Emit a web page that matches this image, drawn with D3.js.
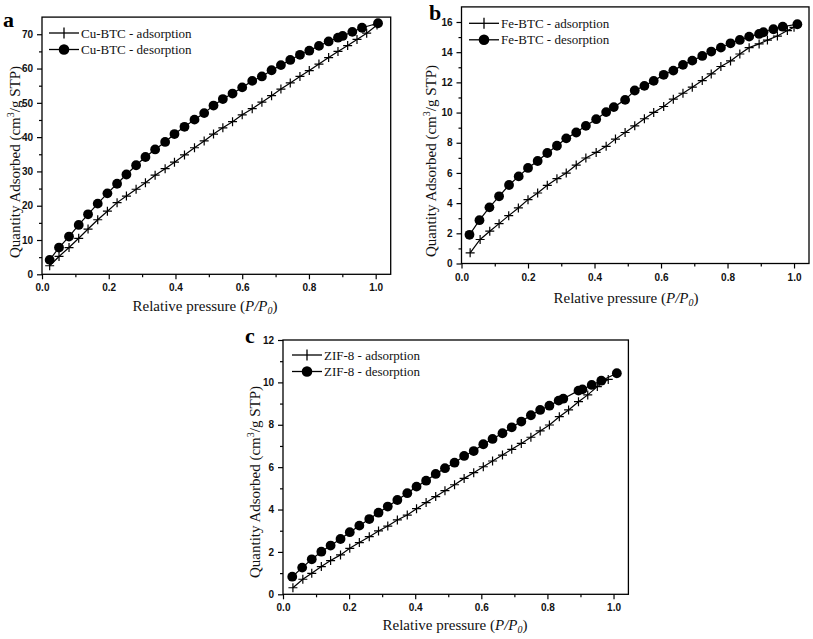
<!DOCTYPE html>
<html>
<head>
<meta charset="utf-8">
<script src="https://cdn.jsdelivr.net/npm/d3@7"></script>
<style>
  body { margin: 0; background: #fff; }
</style>
</head>
<body>
<div id="chart"></div>
<script>
var width = 813,
  height = 639;

// [relative pressure, quantity adsorbed]
var cuAdsorption = [
  [0.023, 2.5], [0.051, 5.2], [0.081, 7.8], [0.110, 10.5], [0.138, 13.2], [0.167, 15.9],
  [0.196, 18.4], [0.225, 20.9], [0.253, 22.8], [0.282, 24.8], [0.310, 26.7], [0.339, 28.9],
  [0.369, 30.8], [0.397, 32.7], [0.427, 34.8], [0.457, 36.9], [0.486, 38.9], [0.514, 40.9],
  [0.542, 42.7], [0.571, 44.5], [0.600, 46.5], [0.630, 48.3], [0.659, 50.2], [0.688, 52.1],
  [0.716, 54.0], [0.744, 55.8], [0.773, 57.7], [0.801, 59.4], [0.830, 61.3], [0.859, 63.2],
  [0.887, 65.0], [0.916, 66.7], [0.944, 68.5], [0.973, 70.3], [1.004, 72.7]
];
var cuDesorption = [
  [0.023, 4.2], [0.051, 7.8], [0.081, 11.0], [0.110, 14.4], [0.138, 17.5], [0.167, 20.6],
  [0.196, 23.6], [0.225, 26.4], [0.253, 29.1], [0.282, 31.8], [0.310, 34.2], [0.339, 36.4],
  [0.369, 38.6], [0.397, 40.9], [0.427, 43.0], [0.457, 45.1], [0.486, 47.0], [0.514, 49.2],
  [0.542, 51.1], [0.571, 52.7], [0.600, 54.5], [0.630, 56.4], [0.659, 57.7], [0.688, 59.5],
  [0.716, 61.0], [0.744, 62.5], [0.773, 64.0], [0.801, 65.2], [0.830, 66.6], [0.859, 67.9],
  [0.887, 69.0], [0.901, 69.5], [0.930, 70.7], [0.959, 71.9], [1.007, 73.2]
];
var feAdsorption = [
  [0.026, 0.71], [0.056, 1.59], [0.085, 2.14], [0.113, 2.64], [0.142, 3.17], [0.171, 3.68],
  [0.200, 4.23], [0.229, 4.67], [0.258, 5.18], [0.287, 5.62], [0.315, 5.99], [0.345, 6.52],
  [0.374, 6.99], [0.405, 7.36], [0.435, 7.76], [0.463, 8.24], [0.492, 8.68], [0.521, 9.12],
  [0.550, 9.59], [0.578, 10.01], [0.608, 10.40], [0.637, 10.89], [0.666, 11.28], [0.694, 11.68],
  [0.724, 12.12], [0.751, 12.56], [0.780, 13.05], [0.809, 13.42], [0.837, 13.88], [0.865, 14.30],
  [0.895, 14.55], [0.920, 14.80], [0.950, 15.07], [0.980, 15.43], [1.000, 15.65]
];
var feDesorption = [
  [0.024, 1.90], [0.054, 2.87], [0.084, 3.72], [0.113, 4.45], [0.143, 5.20], [0.172, 5.77],
  [0.200, 6.33], [0.229, 6.79], [0.258, 7.32], [0.287, 7.80], [0.315, 8.29], [0.345, 8.68],
  [0.374, 9.12], [0.405, 9.56], [0.435, 10.03], [0.458, 10.36], [0.492, 10.84], [0.521, 11.46],
  [0.550, 11.77], [0.578, 12.10], [0.608, 12.50], [0.637, 12.78], [0.666, 13.16], [0.694, 13.44],
  [0.724, 13.75], [0.751, 14.04], [0.780, 14.30], [0.809, 14.59], [0.837, 14.81], [0.865, 15.03],
  [0.895, 15.21], [0.908, 15.32], [0.938, 15.52], [0.966, 15.69], [1.010, 15.85]
];
var zifAdsorption = [
  [0.030, 0.31], [0.060, 0.71], [0.087, 0.99], [0.116, 1.31], [0.144, 1.59], [0.174, 1.86],
  [0.202, 2.17], [0.231, 2.44], [0.261, 2.72], [0.289, 2.99], [0.317, 3.22], [0.346, 3.51],
  [0.376, 3.74], [0.404, 4.04], [0.433, 4.33], [0.462, 4.61], [0.490, 4.89], [0.519, 5.17],
  [0.548, 5.47], [0.577, 5.74], [0.606, 6.02], [0.634, 6.29], [0.664, 6.57], [0.692, 6.84],
  [0.721, 7.12], [0.750, 7.41], [0.778, 7.71], [0.806, 7.99], [0.836, 8.38], [0.864, 8.70],
  [0.894, 9.09], [0.922, 9.41], [0.951, 9.80], [0.984, 10.14]
];
var zifDesorption = [
  [0.028, 0.83], [0.058, 1.26], [0.087, 1.65], [0.116, 2.01], [0.144, 2.30], [0.174, 2.61],
  [0.202, 2.93], [0.231, 3.24], [0.261, 3.55], [0.289, 3.85], [0.317, 4.14], [0.346, 4.45],
  [0.376, 4.77], [0.404, 5.08], [0.433, 5.36], [0.462, 5.68], [0.490, 5.95], [0.519, 6.21],
  [0.548, 6.53], [0.577, 6.76], [0.606, 7.08], [0.634, 7.33], [0.664, 7.60], [0.692, 7.88],
  [0.721, 8.15], [0.750, 8.45], [0.778, 8.70], [0.806, 8.90], [0.834, 9.14], [0.848, 9.23],
  [0.894, 9.61], [0.906, 9.67], [0.934, 9.88], [0.963, 10.08], [1.010, 10.43]
];

// ticks
var xTicks = [0, 0.2, 0.4, 0.6, 0.8, 1.0];
var xMinor = [0.1, 0.3, 0.5, 0.7, 0.9];
var cuTicks = [0, 10, 20, 30, 40, 50, 60, 70];
var cuMinor = [5, 15, 25, 35, 45, 55, 65];
var feTicks = [0, 2, 4, 6, 8, 10, 12, 14, 16];
var feMinor = [1, 3, 5, 7, 9, 11, 13, 15];
var zifTicks = [0, 2, 4, 6, 8, 10, 12];
var zifMinor = [1, 3, 5, 7, 9, 11];

var xMax = 1.045;

var panels = [
  { letter: 'a', name: 'Cu-BTC', ads: cuAdsorption, des: cuDesorption,
    yMax: 75, yTicks: cuTicks, yMinor: cuMinor,
    left: 42, right: 390.7, bottom: 274.3, top: 17.1,
    letterX: 3, letterY: 27,
    legX: 49, legY: 33, xTitleX: 205, xTitleY: 311, yTitleX: 19.5, yTitleY: 162 },
  { letter: 'b', name: 'Fe-BTC', ads: feAdsorption, des: feDesorption,
    yMax: 17, yTicks: feTicks, yMinor: feMinor,
    left: 461.5, right: 809, bottom: 263.5, top: 6.9,
    letterX: 429, letterY: 20,
    legX: 469, legY: 23.3, xTitleX: 626, xTitleY: 303, yTitleX: 435.5, yTitleY: 161 },
  { letter: 'c', name: 'ZIF-8', ads: zifAdsorption, des: zifDesorption,
    yMax: 12, yTicks: zifTicks, yMinor: zifMinor,
    left: 283, right: 628.4, bottom: 594.3, top: 340,
    letterX: 245, letterY: 343,
    legX: 292, legY: 355, xTitleX: 455, xTitleY: 630, yTitleX: 259.5, yTitleY: 482 }
];

var serif = '"Liberation Serif", "Times New Roman", serif';
var sans = '"Liberation Sans", Arial, sans-serif';

var svg = d3.select('#chart')
  .append('svg')
  .attr('width', width)
  .attr('height', height);

svg.append('rect')
  .attr('width', width)
  .attr('height', height)
  .attr('fill', '#fff');

var plusPath = 'M-4.5,0H4.5M0,-4.5V4.5';

panels.forEach(drawPanel);

function styleAxis(sel) {
  sel.select('.domain').remove();
  sel.selectAll('line').attr('stroke', '#000').attr('stroke-width', 1.2);
  sel.selectAll('text')
    .attr('font-family', sans)
    .attr('font-weight', 'bold')
    .attr('font-size', 10)
    .attr('fill', '#111');
}

function drawPanel(p) {
  var x = d3.scaleLinear().domain([0, xMax]).range([p.left, p.right]);
  var y = d3.scaleLinear().domain([0, p.yMax]).range([p.bottom, p.top]);
  var g = svg.append('g');

  // axes (major + minor)
  g.append('g')
    .attr('transform', 'translate(0,' + p.bottom + ')')
    .call(d3.axisBottom(x).tickValues(xTicks).tickFormat(d3.format('.1f'))
      .tickSize(5).tickSizeOuter(0).tickPadding(5))
    .call(styleAxis);
  g.append('g')
    .attr('transform', 'translate(0,' + p.bottom + ')')
    .call(d3.axisBottom(x).tickValues(xMinor).tickFormat('').tickSize(3).tickSizeOuter(0))
    .call(styleAxis);
  g.append('g')
    .attr('transform', 'translate(' + p.left + ',0)')
    .call(d3.axisLeft(y).tickValues(p.yTicks).tickFormat(d3.format('d'))
      .tickSize(5).tickSizeOuter(0).tickPadding(4))
    .call(styleAxis);
  g.append('g')
    .attr('transform', 'translate(' + p.left + ',0)')
    .call(d3.axisLeft(y).tickValues(p.yMinor).tickFormat('').tickSize(3).tickSizeOuter(0))
    .call(styleAxis);

  // frame
  g.append('rect')
    .attr('x', x(0))
    .attr('y', y(p.yMax))
    .attr('width', x(xMax) - x(0))
    .attr('height', y(0) - y(p.yMax))
    .attr('fill', 'none')
    .attr('stroke', '#000')
    .attr('stroke-width', 1.3);

  var line = d3.line()
    .x(function(d) { return x(d[0]); })
    .y(function(d) { return y(d[1]); });

  g.append('path')
    .datum(p.ads)
    .attr('d', line)
    .attr('fill', 'none')
    .attr('stroke', '#000')
    .attr('stroke-width', 1.2);

  g.append('path')
    .datum(p.des)
    .attr('d', line)
    .attr('fill', 'none')
    .attr('stroke', '#000')
    .attr('stroke-width', 1.2);

  g.append('g')
    .selectAll('path')
    .data(p.ads)
    .join('path')
    .attr('d', plusPath)
    .attr('stroke', '#000')
    .attr('stroke-width', 1.2)
    .attr('transform', function(d) {
      return 'translate(' + x(d[0]) + ',' + y(d[1]) + ')';
    });

  g.append('g')
    .selectAll('circle')
    .data(p.des)
    .join('circle')
    .attr('cx', function(d) { return x(d[0]); })
    .attr('cy', function(d) { return y(d[1]); })
    .attr('r', 4.9)
    .attr('fill', '#000');

  // legend
  var rows = [
    { label: p.name + ' - adsorption', sym: 'plus' },
    { label: p.name + ' - desorption', sym: 'circle' }
  ];
  rows.forEach(function(r, i) {
    var ly = p.legY + i * 16.5;
    g.append('line')
      .attr('x1', p.legX).attr('x2', p.legX + 30)
      .attr('y1', ly).attr('y2', ly)
      .attr('stroke', '#000')
      .attr('stroke-width', 1.3);
    if (r.sym == 'plus') {
      g.append('path')
        .attr('d', 'M0,-5.5V5.5')
        .attr('stroke', '#000')
        .attr('stroke-width', 1.3)
        .attr('transform', 'translate(' + (p.legX + 15) + ',' + ly + ')');
    } else {
      g.append('circle')
        .attr('cx', p.legX + 15)
        .attr('cy', ly)
        .attr('r', 5.3)
        .attr('fill', '#000');
    }
    g.append('text')
      .attr('x', p.legX + 32)
      .attr('y', ly)
      .attr('dy', '0.35em')
      .attr('font-family', serif)
      .attr('font-size', 13)
      .attr('fill', '#111')
      .text(r.label);
  });

  // panel letter
  g.append('text')
    .attr('x', p.letterX)
    .attr('y', p.letterY)
    .attr('font-family', serif)
    .attr('font-weight', 'bold')
    .attr('font-size', 22)
    .text(p.letter);

  // x title
  var xt = g.append('text')
    .attr('x', p.xTitleX)
    .attr('y', p.xTitleY)
    .attr('text-anchor', 'middle')
    .attr('font-family', serif)
    .attr('font-size', 15)
    .attr('fill', '#111');
  xt.append('tspan').text('Relative pressure (');
  xt.append('tspan').attr('font-style', 'italic').text('P/P');
  xt.append('tspan').attr('font-style', 'italic').attr('font-size', 10)
    .attr('baseline-shift', '-3').text('0');
  xt.append('tspan').text(')');

  // y title
  var yt = g.append('text')
    .attr('transform', 'translate(' + p.yTitleX + ',' + p.yTitleY + ') rotate(-90)')
    .attr('text-anchor', 'middle')
    .attr('font-family', serif)
    .attr('font-size', 15)
    .attr('fill', '#111');
  yt.append('tspan').text('Quantity Adsorbed (cm');
  yt.append('tspan').attr('font-size', 10).attr('baseline-shift', '6').text('3');
  yt.append('tspan').text('/g STP)');
}
</script>
</body>
</html>
